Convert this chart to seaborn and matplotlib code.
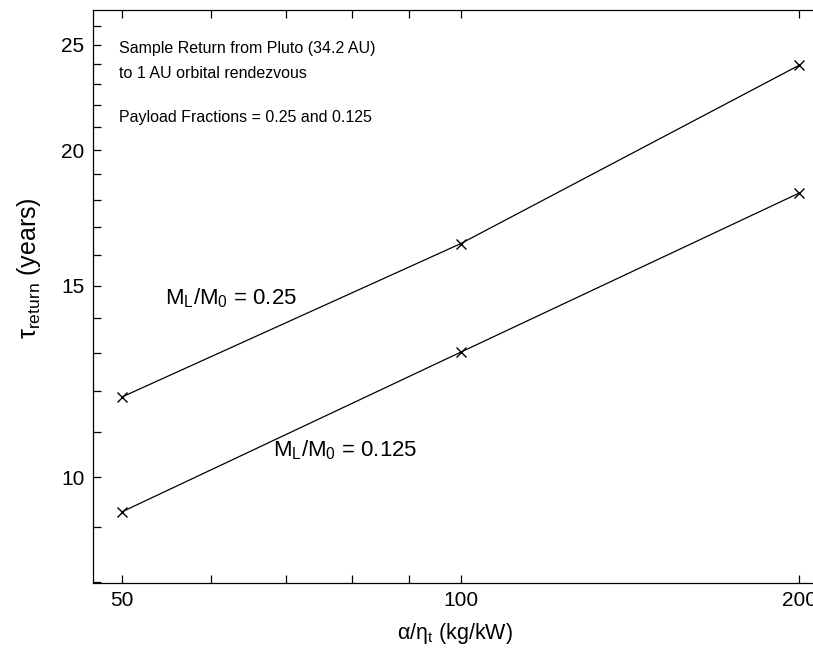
"""Pluto sample return trip time vs specific mass."""
import matplotlib

matplotlib.use("Agg")
import matplotlib.pyplot as plt
import matplotlib.ticker as mticker
import pandas as pd
import seaborn as sns

# Data
alpha_eta = [50, 100, 200]
tau_025 = [11.85, 16.40, 23.94]
tau_0125 = [9.29, 13.03, 18.26]
fractions = ["0.25", "0.125"]

x_major = [50, 100, 200]
y_major = [10, 15, 20, 25]
y_minor = [8, 9, 11, 12, 13, 14, 16, 17, 18, 19, 21, 22, 23, 24, 26]


def main() -> None:
    df = pd.DataFrame(
        {
            "alpha": alpha_eta * 2,
            "tau": tau_025 + tau_0125,
            "frac": [fractions[0]] * 3 + [fractions[1]] * 3,
        }
    )

    sns.set_theme(style="ticks")
    plt.rcParams["font.family"] = ["Liberation Sans", "DejaVu Sans"]
    plt.rcParams["mathtext.fontset"] = "custom"
    plt.rcParams["mathtext.rm"] = "Liberation Sans"
    plt.rcParams["mathtext.it"] = "Liberation Sans:italic"
    for key in ["text.color", "axes.labelcolor", "xtick.color", "ytick.color",
                "axes.edgecolor"]:
        plt.rcParams[key] = "black"

    fig = plt.figure(figsize=(8.13, 6.48), dpi=100)
    # axes runs past the right edge, as in the reference
    ax = fig.add_axes([0.114, 0.1003, 0.907, 0.884])

    sns.lineplot(
        data=df, x="alpha", y="tau", hue="frac", palette=["black", "black"],
        marker="x", markersize=7, markeredgewidth=1.0, markeredgecolor="black",
        linewidth=0.9, legend=False, ax=ax,
    )

    ax.set_xscale("log")
    ax.set_yscale("log")
    ax.set_xlim(47.1, 213)
    ax.set_ylim(7.99, 26.9)

    ax.xaxis.set_major_locator(mticker.FixedLocator(x_major))
    ax.xaxis.set_major_formatter(mticker.FixedFormatter([str(v) for v in x_major]))
    ax.xaxis.set_minor_locator(mticker.LogLocator(subs=range(2, 10)))
    ax.xaxis.set_minor_formatter(mticker.NullFormatter())
    ax.yaxis.set_major_locator(mticker.FixedLocator(y_major))
    ax.yaxis.set_major_formatter(mticker.FixedFormatter([str(v) for v in y_major]))
    ax.yaxis.set_minor_locator(mticker.FixedLocator(y_minor))
    ax.yaxis.set_minor_formatter(mticker.NullFormatter())

    ax.tick_params(which="both", direction="in", top=True, right=True,
                   length=6, width=0.9, color="black")
    ax.tick_params(which="major", labelsize=15, pad=6)
    for spine in ax.spines.values():
        spine.set_linewidth(0.9)

    ax.set_xlabel("α/η$_{\\mathrm{t}}$ (kg/kW)", fontsize=15.5)
    ax.set_ylabel("τ$_{\\mathrm{return}}$ (years)", fontsize=18)
    ax.xaxis.set_label_coords(0.491, -0.066)
    ax.yaxis.set_label_coords(-0.068, 0.55)

    # annotations
    note = dict(transform=ax.transAxes, fontsize=11.5, va="center")
    ax.text(0.0357, 0.933, "Sample Return from Pluto (34.2 AU)", **note)
    ax.text(0.0357, 0.890, "to 1 AU orbital rendezvous", **note)
    ax.text(0.0357, 0.813, "Payload Fractions = 0.25 and 0.125", **note)
    ax.text(0.098, 0.497, f"M$_{{\\mathrm{{L}}}}$/M$_0$ = {fractions[0]}",
            transform=ax.transAxes, fontsize=16, va="center")
    ax.text(0.2445, 0.232, f"M$_{{\\mathrm{{L}}}}$/M$_0$ = {fractions[1]}",
            transform=ax.transAxes, fontsize=16, va="center")

    fig.savefig("out.png", dpi=100, facecolor="white")
    plt.close(fig)


if __name__ == "__main__":
    main()
